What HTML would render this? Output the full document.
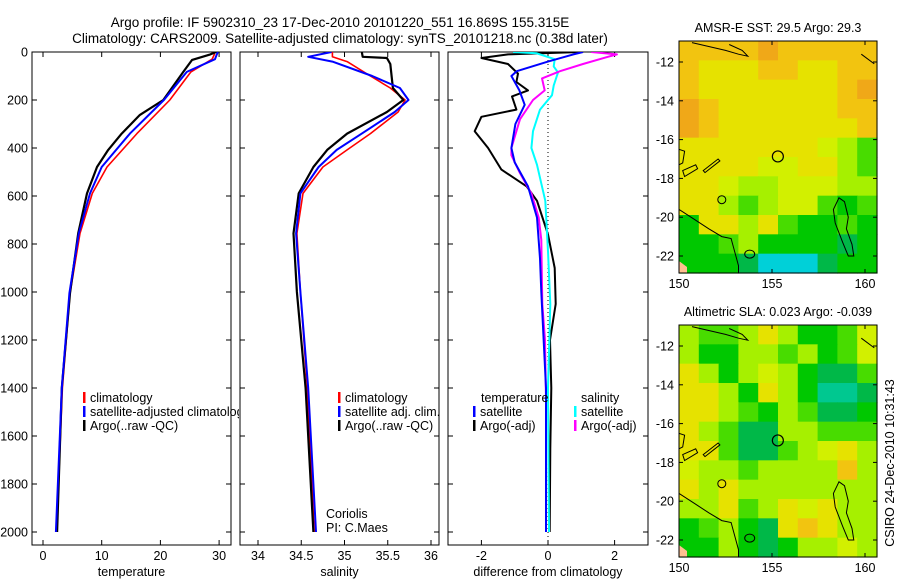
<!DOCTYPE html>
<html><head><meta charset="utf-8">
<style>
html,body{margin:0;padding:0;background:#fff;}
svg{display:block;font-family:"Liberation Sans",sans-serif;}
text{fill:#000;}
</style></head>
<body>
<svg id="fig" width="900" height="580" viewBox="0 0 900 580" xmlns="http://www.w3.org/2000/svg">
<text x="340" y="27" font-size="13.5" text-anchor="middle">Argo profile: IF 5902310_23 17-Dec-2010 20101220_551 16.869S 155.315E</text>
<text x="340" y="43" font-size="13.5" text-anchor="middle">Climatology: CARS2009. Satellite-adjusted climatology: synTS_20101218.nc (0.38d later)</text>
<text x="778" y="32" font-size="12.5" text-anchor="middle">AMSR-E SST: 29.5 Argo: 29.3</text>
<text x="778" y="316" font-size="12.5" text-anchor="middle">Altimetric SLA: 0.023 Argo: -0.039</text>
<text transform="translate(894,463) rotate(-90)" font-size="12.5" text-anchor="middle">CSIRO 24-Dec-2010 10:31:43</text>
<g id="layer"></g>
</svg>
<script>
// ---- data ----
const depthTicks=[0,200,400,600,800,1000,1200,1400,1600,1800,2000];
const tempTicks=[0,10,20,30];
const salTicks=[34,34.5,35,35.5,36];
const diffTicks=[-2,0,2];
const latTicks=[-12,-14,-16,-18,-20,-22];
const lonTicks=[150,155,160];

const tDepthArgo=[0,10,33,83,200,262,340,408,479,589,756,1005,1400,2000];
const tArgo=[29.5,28.5,25.4,23.9,20.5,16.5,13.4,11.1,9.2,7.5,6.0,4.6,3.2,2.4];
const tDepthClim=[0,10,30,83,200,340,479,589,756,1005,1400,2000];
const tSat=[29.8,29.6,29.3,24.5,20.6,14.8,10.0,8.0,6.1,4.5,3.2,2.2];
const tClim=[28.9,29.2,28.8,25.2,21.6,16.0,10.9,8.4,6.3,4.6,3.3,2.3];

const sDepthArgo=[0,20,25,50,150,200,250,340,408,479,589,756,1000,1400,2000];
const sArgo=[35.2,35.21,35.49,35.53,35.56,35.68,35.49,35.03,34.8,34.64,34.47,34.41,34.45,34.55,34.64];
const sDepthClim=[0,20,40,100,150,200,250,340,408,479,589,756,1000,1400,2000];
const sClim=[34.86,34.86,35.03,35.3,35.53,35.7,35.62,35.3,35.03,34.75,34.52,34.45,34.49,34.57,34.65];
const sSat=[34.85,34.58,34.86,35.32,35.64,35.74,35.58,35.2,34.91,34.7,34.49,34.44,34.49,34.58,34.67];

const dDepthTA=[0,10,25,50,90,125,160,185,240,270,330,400,490,560,620,760,900,1050,1200,1400,1650,2000];
const dTempArgo=[0.96,-1.2,-2.0,-1.2,-0.9,-0.95,-0.6,-1.08,-0.95,-2.0,-2.2,-1.8,-1.4,-0.64,-0.33,0,0.2,0.23,0.06,0.1,0.07,0.05];
const dDepthTS=[0,10,40,80,100,160,220,300,400,460,560,690,860,1000,1400,2000];
const dTempSat=[1.05,0.76,0,-0.94,-1.1,-0.86,-0.7,-0.98,-1.1,-1.0,-0.6,-0.33,-0.24,-0.2,-0.06,-0.06];
const dDepthSS=[0,5,30,60,85,140,180,240,330,400,470,620,830,1050,1400,2000];
const dSalSat=[-1.05,-0.35,0.2,0.17,0.3,0.17,0.12,-0.24,-0.45,-0.5,-0.33,-0.08,0,0.07,0,0.03];
const dDepthSA=[0,10,20,50,80,110,160,200,280,400,430,500,590,690,783,1050,1200,1450,2000];
const dSalArgo=[1.3,2.07,1.8,1.05,0.36,-0.18,-0.1,-0.45,-0.84,-1.1,-1.1,-0.86,-0.5,-0.28,-0.2,-0.17,-0.09,-0.06,-0.06];

const sstGrid=["ooooOooooo","oYYYooYYoo","oYYYYYYYoO","OoYYYYYYoo","OoYYYYYYYo","YYYYYYYyLG","YYYYyyYYLG","YYyLLyyyLL","YYLGLyyGgG","gYYLYGggGg","ggGLggggDg","gggDCCCDgg"];
const slaGrid=["LGGLYLggGy","LggLLGLgGy","YLgLyLgDDG","YYLgYLgTTD","YYLGgLGDDg","YLGDDLLGGG","YYGDDGLyYL","yLLGLLLLoL","YLYLLLLLLL","LLYGLYyYLL","gGLgDYoYLL","ggLgDgLLyL"];
const palette={O:"#f0a818",o:"#f2c410",Y:"#e6e200",y:"#d2f000",L:"#a6f000",G:"#48dc00",g:"#00c800",D:"#00b848",C:"#00d0d8",T:"#00c890"};
const floatLon=155.315, floatLat=-16.869;

// ---- helpers ----
const NS="http://www.w3.org/2000/svg";
const layer=document.getElementById('layer');
function mk(tag,attrs,parent){const e=document.createElementNS(NS,tag);for(const k in attrs)e.setAttribute(k,attrs[k]);(parent||layer).appendChild(e);return e;}
const Y0=52, Y1=545;
const yDepth=d=>52+d*0.24;

function panel(name,x0,x1,xs,ticks,fmt,label){
  const g=mk('g',{});
  
  
  const box=mk('rect',{x:x0,y:Y0,width:x1-x0,height:Y1-Y0,fill:'none',stroke:'#000','stroke-width':1},g);
  
  
  depthTicks.forEach(d=>{const y=yDepth(d);
    mk('line',{x1:x0,x2:x0+5,y1:y,y2:y,stroke:'#000'},g);
    mk('line',{x1:x1-5,x2:x1,y1:y,y2:y,stroke:'#000'},g);});
  ticks.forEach(v=>{const x=xs(v);
    mk('line',{x1:x,x2:x,y1:Y1,y2:Y1-5,stroke:'#000'},g);
    mk('line',{x1:x,x2:x,y1:Y0,y2:Y0+5,stroke:'#000'},g);
    const t=mk('text',{x:x,y:Y1+15,'font-size':12.5,'text-anchor':'middle'},g);t.textContent=fmt(v);
    
    });
  const lt=mk('text',{x:(x0+x1)/2,y:576,'font-size':12.5,'text-anchor':'middle'},g);lt.textContent=label;
  
  
  return g;
}
function line(g,name,depths,vals,xs,color,w,clip){
  const pts=depths.map((d,i)=>xs(vals[i]).toFixed(1)+','+yDepth(d).toFixed(1)).join(' ');
  const p=mk('polyline',{points:pts,fill:'none',stroke:color,'stroke-width':w,'stroke-linejoin':'round'},g);
  
  
  if(clip)p.setAttribute('clip-path',clip);
}
function legend(g,x,y,color,label,name){
  const r=mk('rect',{x:x,y:y-10,width:2.5,height:11,fill:color},g);
  
  
  const t=mk('text',{x:x+7,y:y,'font-size':12.5},g);t.textContent=label;
  
  
}
const defs=mk('defs',{});
[['c1',32,231],['c2',240,439],['c3',448,648]].forEach(([id,a,b])=>{const c=mk('clipPath',{id:id},defs);mk('rect',{x:a,y:Y0,width:b-a,height:Y1-Y0},c);});
const cl=mk('clipPath',{id:'cleg'},defs);mk('rect',{x:0,y:0,width:239,height:580},cl);

depthTicks.forEach(d=>{const t=mk('text',{x:28,y:yDepth(d)+4.5,'font-size':12.5,'text-anchor':'end'});t.textContent=d;
  
  });

// panel 1 temperature
const xT=v=>43+v*5.87;
const g1=panel('temperature-panel',32,231,xT,tempTicks,v=>v,'temperature');
line(g1,'temp-climatology-line',tDepthClim,tClim,xT,'#ff0000',1.6,'url(#c1)');
line(g1,'temp-argo-line',tDepthArgo,tArgo,xT,'#000',2.2,'url(#c1)');
line(g1,'temp-satellite-line',tDepthClim,tSat,xT,'#0000ff',2,'url(#c1)');
const lg1=mk('g',{'clip-path':'url(#cleg)'},g1);
legend(lg1,83,402,'#ff0000','climatology','legend-climatology');
legend(lg1,83,416,'#0000ff','satellite-adjusted climatology','legend-satellite-adjusted');
legend(lg1,83,430,'#000','Argo(..raw -QC)','legend-argo');

// panel 2 salinity
const xS=v=>258+(v-34)*86.5;
const g2=panel('salinity-panel',240,439,xS,salTicks,v=>v,'salinity');
line(g2,'sal-climatology-line',sDepthClim,sClim,xS,'#ff0000',1.6,'url(#c2)');
line(g2,'sal-argo-line',sDepthArgo,sArgo,xS,'#000',2.2,'url(#c2)');
line(g2,'sal-satellite-line',sDepthClim,sSat,xS,'#0000ff',2,'url(#c2)');
legend(g2,338,402,'#ff0000','climatology','legend-sal-climatology');
legend(g2,338,416,'#0000ff','satellite adj. clim.','legend-sal-satellite');
legend(g2,338,430,'#000','Argo(..raw -QC)','legend-sal-argo');
const c1=mk('text',{x:326,y:518,'font-size':12.5},g2);c1.textContent='Coriolis';


const c2=mk('text',{x:326,y:532,'font-size':12.5},g2);c2.textContent='PI: C.Maes';



// panel 3 differences
const xD=v=>548+v*33.3;
const g3=panel('difference-panel',448,648,xD,diffTicks,v=>v,'difference from climatology');
mk('line',{x1:xD(0),x2:xD(0),y1:Y0,y2:Y1,stroke:'#000','stroke-width':1,'stroke-dasharray':'1,3'},g3);
line(g3,'diff-temp-argo-line',dDepthTA,dTempArgo,xD,'#000',2,'url(#c3)');
line(g3,'diff-sal-satellite-line',dDepthSS,dSalSat,xD,'#00ffff',2,'url(#c3)');
line(g3,'diff-sal-argo-line',dDepthSA,dSalArgo,xD,'#ff00ff',2,'url(#c3)');
line(g3,'diff-temp-satellite-line',dDepthTS,dTempSat,xD,'#0000ff',2,'url(#c3)');
const lt1=mk('text',{x:481,y:402,'font-size':12.5},g3);lt1.textContent='temperature';


const lt2=mk('text',{x:581,y:402,'font-size':12.5},g3);lt2.textContent='salinity';


legend(g3,473,416,'#0000ff','satellite','legend-diff-temp-satellite');
legend(g3,473,430,'#000','Argo(-adj)','legend-diff-temp-argo');
legend(g3,574,416,'#00ffff','satellite','legend-diff-sal-satellite');
legend(g3,574,430,'#ff00ff','Argo(-adj)','legend-diff-sal-argo');

// maps
function map(name,top,bottom,grid){
  const x0=679,x1=877;
  const lonX=l=>679+(l-150)*18.6;
  const latY=la=>top+21+(-12-la)*19.4;
  const P=(lo,la)=>lonX(lo).toFixed(1)+' '+latY(la).toFixed(1);
  const g=mk('g',{});
  
  
  const rows=grid.length, cols=grid[0].length;
  const cw=(x1-x0)/cols, ch=(bottom-top)/rows;
  for(let r=0;r<rows;r++)for(let c=0;c<cols;c++){
    const cell=mk('rect',{x:(x0+c*cw).toFixed(2),y:(top+r*ch).toFixed(2),width:(cw+0.6).toFixed(2),height:(ch+0.6).toFixed(2),fill:palette[grid[r][c]]},g);
    
    
  }
  const clipId=name+'-clip';
  const cp=mk('clipPath',{id:clipId},defs);mk('rect',{x:x0,y:top,width:x1-x0,height:bottom-top},cp);
  const cg=mk('g',{'clip-path':'url(#'+clipId+')'},g);
  const path=(d,fill)=>{const p=mk('path',{d:d,fill:fill||'none',stroke:'#000','stroke-width':1},cg);};
  // mainland-shelf contour lower left
  path(`M${P(150,-19.6)} L${P(150.8,-20.1)} L${P(151.6,-20.6)} L${P(152.3,-21.0)} L${P(152.8,-21.1)} L${P(153.0,-21.8)} L${P(153.2,-22.5)} L${P(153.2,-23.2)}`);
  // reef outline east
  path(`M${P(158.6,-19.0)} L${P(158.9,-19.2)} L${P(159.1,-20.0)} L${P(159.0,-20.6)} L${P(159.3,-21.4)} L${P(159.4,-22.0)} L${P(159.1,-22.0)} L${P(158.8,-21.3)} L${P(158.4,-20.3)} L${P(158.3,-19.6)} Z`);
  path(`M${P(150.2,-17.6)} L${P(150.9,-17.3)} L${P(151.0,-17.5)} L${P(150.3,-17.9)} Z`);
  path(`M${P(151.3,-17.6)} L${P(152.1,-17.0)} L${P(152.2,-17.1)} L${P(151.4,-17.7)} Z`);
  path(`M${P(150,-16.5)} L${P(150.3,-16.6)} L${P(150.2,-17.2)} L${P(150,-17.3)}`);
  // islands top
  path(`M${P(150.7,-11.0)} L${P(152.5,-11.4)} L${P(153.2,-11.6)} L${P(153.7,-11.7)} L${P(153.4,-11.4)} L${P(152.7,-11.1)}`);
  path(`M${P(159.8,-11.6)} L${P(160.5,-12.1)}`);
  path(`M${P(152.3,-19.1)} m-4 0 a4 4 0 1 0 8 0 a4 4 0 1 0 -8 0`);
  path(`M${P(153.8,-21.9)} m-5 0 a5 4 0 1 0 10 0 a5 4 0 1 0 -10 0`);
  mk('path',{d:`M${x0} ${bottom-12} l8 6 l0 6 l-8 0 z`,fill:'#ffc090',stroke:'none'},cg);
  const circ=mk('circle',{cx:lonX(floatLon),cy:latY(floatLat),r:5.5,fill:'none',stroke:'#000','stroke-width':1.2},g);
  
  
  const fr=mk('rect',{x:x0,y:top,width:x1-x0,height:bottom-top,fill:'none',stroke:'#000'},g);
  
  
  latTicks.forEach(la=>{const y=latY(la);
    mk('line',{x1:x0,x2:x0+4,y1:y,y2:y,stroke:'#000'},g);
    mk('line',{x1:x1-4,x2:x1,y1:y,y2:y,stroke:'#000'},g);
    const t=mk('text',{x:x0-5,y:y+4.5,'font-size':12.5,'text-anchor':'end'},g);t.textContent=la;
    
    });
  lonTicks.forEach(lo=>{const x=lonX(lo);
    mk('line',{x1:x,x2:x,y1:top,y2:top+4,stroke:'#000'},g);
    mk('line',{x1:x,x2:x,y1:bottom,y2:bottom-4,stroke:'#000'},g);
    const t=mk('text',{x:x,y:bottom+15,'font-size':12.5,'text-anchor':'middle'},g);t.textContent=lo;
    
    });
}
map('sst-map',41,273,sstGrid);
map('sla-map',325,557,slaGrid);
</script>
</body></html>
